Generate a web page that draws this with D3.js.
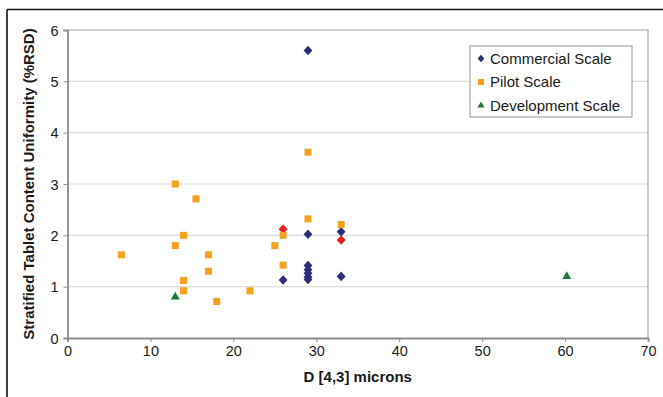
<!DOCTYPE html>
<html>
<head>
<meta charset="utf-8">
<script src="https://cdn.jsdelivr.net/npm/d3@7"></script>
<style>
  html, body { margin: 0; padding: 0; background: #fff; }
  svg { display: block; font-family: "Liberation Sans", Arial, sans-serif; }
</style>
</head>
<body>
<svg id="chart" width="663" height="397"></svg>
<script>
// Particle size (D[4,3], microns) vs stratified tablet content uniformity (%RSD)
const commercialX = [29, 29, 33, 26, 29, 29, 29, 29, 29, 33];
const commercialY = [5.6, 2.02, 2.07, 1.13, 1.41, 1.33, 1.26, 1.19, 1.14, 1.2];

const highlightX = [26, 33];
const highlightY = [2.12, 1.91];

const pilotX = [13, 15.5, 14, 13, 6.5, 17, 17, 14, 14, 18, 22, 25, 26, 26, 29, 29, 33];
const pilotY = [3.0, 2.71, 2.0, 1.8, 1.62, 1.62, 1.3, 1.12, 0.92, 0.71, 0.92, 1.8, 2.0, 1.42, 3.62, 2.32, 2.21];

const developmentX = [13, 60.2];
const developmentY = [0.8, 1.2];

const seriesNames = ["Commercial Scale", "Pilot Scale", "Development Scale"];
const xTicks = [0, 10, 20, 30, 40, 50, 60, 70];
const yTicks = [0, 1, 2, 3, 4, 5, 6];

const colors = { commercial: "#2b2c7c", pilot: "#f7a11f", development: "#1a7a3a", highlight: "#ec1c24" };

const svg = d3.select("#chart");
const margin = { left: 67.5, right: 648, top: 30, bottom: 338 };

const x = d3.scaleLinear().domain([0, 70]).range([margin.left, margin.right]);
const y = d3.scaleLinear().domain([0, 6]).range([margin.bottom, margin.top]);

// outer frame (top and left edges)
svg.append("line").attr("x1", 7).attr("x2", 663).attr("y1", 9.5).attr("y2", 9.5)
  .attr("stroke", "#111").attr("stroke-width", 1.6);
svg.append("line").attr("x1", 7).attr("x2", 7).attr("y1", 9.5).attr("y2", 397)
  .attr("stroke", "#111").attr("stroke-width", 1.6);

// horizontal gridlines
svg.append("g").selectAll("line").data(yTicks.filter(t => t > 0 && t < 6)).join("line")
  .attr("x1", x(0)).attr("x2", x(70))
  .attr("y1", d => y(d)).attr("y2", d => y(d))
  .attr("stroke", "#dcdcdc").attr("stroke-width", 1.2);

// plot-area border (top and right)
svg.append("path")
  .attr("d", `M${x(0)},${y(6)}H${x(70)}V${y(0)}`)
  .attr("fill", "none").attr("stroke", "#a6a6a6").attr("stroke-width", 1.2);

// axes
const xAxis = d3.axisBottom(x).tickValues(xTicks).tickFormat(d3.format("d")).tickSize(4).tickPadding(4);
const yAxis = d3.axisLeft(y).tickValues(yTicks).tickFormat(d3.format("d")).tickSize(4).tickPadding(5);

const gx = svg.append("g").attr("transform", `translate(0,${y(0)})`).call(xAxis);
const gy = svg.append("g").attr("transform", `translate(${x(0)},0)`).call(yAxis);

[gx, gy].forEach(g => {
  g.select(".domain").attr("stroke", "#8c8c8c").attr("stroke-width", 1.8);
  g.selectAll(".tick line").attr("stroke", "#8c8c8c").attr("stroke-width", 1);
  g.selectAll(".tick text").attr("fill", "#1a1a1a").style("font-size", "14.5px")
    .style("font-family", "'Liberation Sans', Arial, sans-serif");
});
gy.selectAll(".tick text").attr("dy", "0.35em");

// axis titles
svg.append("text")
  .attr("x", (x(0) + x(70)) / 2).attr("y", 382)
  .attr("text-anchor", "middle")
  .style("font-size", "15px").style("font-weight", "bold").attr("fill", "#1a1a1a")
  .text("D [4,3] microns");

svg.append("text")
  .attr("transform", `translate(34,${(y(0) + y(6)) / 2}) rotate(-90)`)
  .attr("text-anchor", "middle")
  .style("font-size", "15px").style("font-weight", "bold").attr("fill", "#1a1a1a")
  .text("Stratified Tablet Content Uniformity (%RSD)");

// marker shapes
const diamondPath = (w, h) => `M0,${-h}L${w},0L0,${h}L${-w},0Z`;
const square = 7;
const triangle = d3.symbol().type(d3.symbolTriangle).size(34);

const plot = svg.append("g");

plot.append("g").selectAll("path").data(d3.zip(commercialX, commercialY)).join("path")
  .attr("d", diamondPath(4.4, 4.8))
  .attr("transform", d => `translate(${x(d[0])},${y(d[1])})`)
  .attr("fill", colors.commercial);

plot.append("g").selectAll("path").data(d3.zip(highlightX, highlightY)).join("path")
  .attr("d", diamondPath(4.4, 4.8))
  .attr("transform", d => `translate(${x(d[0])},${y(d[1])})`)
  .attr("fill", colors.highlight);

plot.append("g").selectAll("rect").data(d3.zip(pilotX, pilotY)).join("rect")
  .attr("x", d => x(d[0]) - square / 2).attr("y", d => y(d[1]) - square / 2)
  .attr("width", square).attr("height", square)
  .attr("fill", colors.pilot);

plot.append("g").selectAll("path").data(d3.zip(developmentX, developmentY)).join("path")
  .attr("d", triangle)
  .attr("transform", d => `translate(${x(d[0])},${y(d[1])})`)
  .attr("fill", colors.development);

// legend
const lg = svg.append("g").attr("transform", "translate(470,46)");
lg.append("rect").attr("width", 162).attr("height", 71)
  .attr("fill", "#fff").attr("stroke", "#a6a6a6").attr("stroke-width", 1.2);

const legendColors = [colors.commercial, colors.pilot, colors.development];
const rows = lg.selectAll("g.row").data(seriesNames).join("g").attr("class", "row")
  .attr("transform", (d, i) => `translate(11,${12.5 + i * 23.5})`);

rows.each(function (d, i) {
  const g = d3.select(this);
  if (i === 0) g.append("path").attr("d", diamondPath(3.3, 3.8)).attr("fill", legendColors[i]);
  if (i === 1) g.append("rect").attr("x", -3).attr("y", -3).attr("width", 6).attr("height", 6).attr("fill", legendColors[i]);
  if (i === 2) g.append("path").attr("d", d3.symbol().type(d3.symbolTriangle).size(22)).attr("fill", legendColors[i]);
});
rows.append("text").attr("x", 9).attr("dy", "0.36em")
  .style("font-size", "15px").attr("fill", "#1a1a1a")
  .text(d => d);
</script>
</body>
</html>
